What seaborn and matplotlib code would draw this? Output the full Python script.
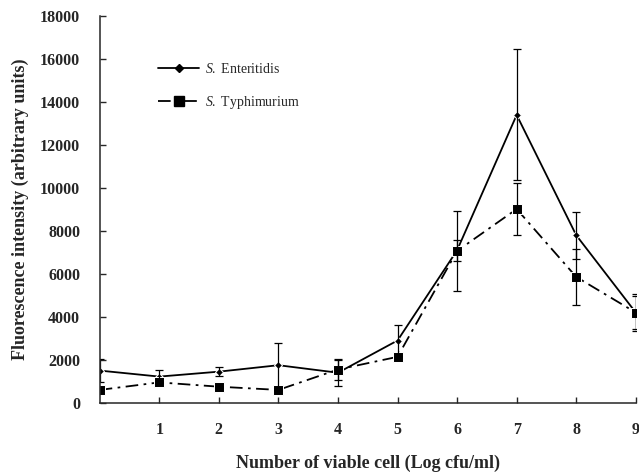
import matplotlib
matplotlib.use("Agg")
import matplotlib.pyplot as plt
import seaborn as sns
import pandas as pd
import numpy as np
from matplotlib.lines import Line2D

x_vals = [0, 1, 2, 3, 4, 5, 6, 7, 8, 9]
enteritidis = [1500, 1220, 1450, 1750, 1400, 2900, 7100, 13400, 7800, 4200]
enteritidis_err = [530, 300, 220, 1050, 600, 700, 500, 3050, 1100, 850]
typhimurium = [600, 950, 750, 600, 1550, 2140, 7070, 9020, 5860, 4200]
typhimurium_err = [0, 0, 0, 0, 500, 0, 1850, 1200, 1300, 750]
series_names = ["S. Enteritidis", "S. Typhimurium"]
x_ticks = [1, 2, 3, 4, 5, 6, 7, 8, 9]
y_ticks = [0, 2000, 4000, 6000, 8000, 10000, 12000, 14000, 16000, 18000]

sns.set_style("ticks")
plt.rcParams["font.family"] = ["Liberation Serif", "DejaVu Serif"]
plt.rcParams["mathtext.fontset"] = "custom"
plt.rcParams["mathtext.rm"] = "Liberation Serif"
plt.rcParams["mathtext.it"] = "Liberation Serif:italic"
plt.rcParams["mathtext.bf"] = "Liberation Serif:bold"

df = pd.DataFrame({
    "x": x_vals * 2,
    "y": enteritidis + typhimurium,
    "series": [series_names[0]] * len(x_vals) + [series_names[1]] * len(x_vals),
})

fig = plt.figure(figsize=(6.39, 4.75), dpi=100)
ax = fig.add_axes([0.156, 0.152, 0.839, 0.814])

sns.lineplot(data=df, x="x", y="y", hue="series", style="series",
             palette={series_names[0]: "black", series_names[1]: "black"},
             markers={series_names[0]: "D", series_names[1]: "s"},
             dashes={series_names[0]: "", series_names[1]: (7, 3, 1.5, 3)},
             markersize=6, linewidth=1.3, ax=ax, legend=False)
for l in ax.lines:
    if l.get_marker() == "D":
        l.set_markersize(4.5)
    else:
        l.set_markersize(7)

ax.errorbar(x_vals, enteritidis, yerr=enteritidis_err, fmt="none",
            ecolor="black", elinewidth=0.9, capsize=3, capthick=0.9)
ax.errorbar(x_vals, typhimurium, yerr=typhimurium_err, fmt="none",
            ecolor="black", elinewidth=0.9, capsize=3, capthick=0.9)

ax.set_xlim(0, 9)
ax.set_ylim(0, 18000)
ax.set_xticks(x_ticks)
ax.set_yticks(y_ticks)
ax.tick_params(direction="in", length=4, width=1, labelsize=11.5)
for lab in ax.get_xticklabels() + ax.get_yticklabels():
    lab.set_fontweight("bold")
ax.tick_params(axis="x", pad=14)
ax.tick_params(axis="y", pad=14)
sns.despine(ax=ax)
for s in ["left", "bottom"]:
    ax.spines[s].set_linewidth(1.1)

ax.set_xlabel("Number of viable cell (Log cfu/ml)", fontsize=13, fontweight="bold", labelpad=12)
ax.set_ylabel("Fluorescence intensity (arbitrary units)", fontsize=13, fontweight="bold", labelpad=8)

h1 = Line2D([], [], color="black", marker="D", markersize=4.5, linewidth=1.3)
h2 = Line2D([], [], color="black", marker="s", markersize=7, linewidth=1.3, dashes=(7, 3, 1.5, 3))
ax.legend([h1, h2], ["$\\it{S.}$ Enteritidis", "$\\it{S.}$ Typhimurium"],
          loc="upper left", bbox_to_anchor=(0.085, 0.915), frameon=False,
          fontsize=10, handlelength=3, labelspacing=1.35, handletextpad=0.4)

fig.savefig("out.png", dpi=100)
